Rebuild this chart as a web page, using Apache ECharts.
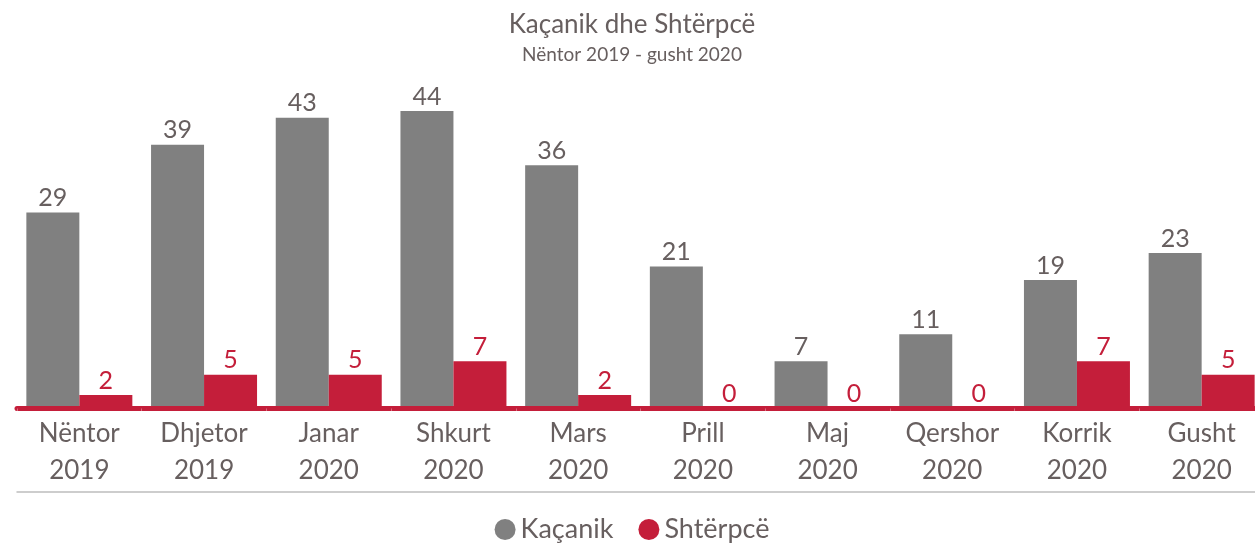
<!DOCTYPE html>
<html>
<meta charset="UTF-8">
<title>Kaçanik dhe Shtërpcë</title>
<style type="text/css">
    html,
    body {
        margin: 0px;
        height: 100%;
        width: 100%;
        overflow: hidden;
    }

    /* a bit wider than the window: the last bar runs off the right edge */
    #chart {
        width: 1264px;
        height: 543px;
    }
</style>
<script src="https://cdn.jsdelivr.net/npm/echarts@6/dist/echarts.min.js"></script>

<body>
    <div id="chart"></div>
    <script>

        const months = ['Nëntor', 'Dhjetor', 'Janar', 'Shkurt', 'Mars', 'Prill', 'Maj', 'Qershor', 'Korrik', 'Gusht'];
        const years = ['2019', '2019', '2020', '2020', '2020', '2020', '2020', '2020', '2020', '2020'];
        const kacanik = [29, 39, 43, 44, 36, 21, 7, 11, 19, 23];
        const shterpce = [2, 5, 5, 7, 2, 0, 0, 0, 7, 5];

        const grey = '#808080';
        const red = '#c41e3a';
        const textColor = '#675f5f';
        const font = 'Lato, "Open Sans", sans-serif';

        const labels = months.map((m, i) => m + '\n' + years[i]);

        const chart = echarts.init(document.querySelector('#chart'));

        const options = {
            textStyle: { fontFamily: font },
            title: {
                text: 'Kaçanik dhe Shtërpcë',
                subtext: 'Nëntor 2019 - gusht 2020',
                left: 'center',
                top: 7,
                itemGap: 7,
                textStyle: { fontSize: 26, fontWeight: 'normal', color: textColor, fontFamily: font },
                subtextStyle: { fontSize: 19, color: textColor, fontFamily: font }
            },
            legend: {
                bottom: -5,
                left: 'center',
                icon: 'circle',
                itemWidth: 21,
                itemHeight: 21,
                itemGap: 25,
                textStyle: { fontSize: 27, color: textColor, fontFamily: font }
            },
            grid: {
                left: 17,
                right: 0,
                top: 70.5,
                bottom: 134.5
            },
            xAxis: [{
                type: 'category',
                data: labels,
                z: 10,
                axisLine: { lineStyle: { color: red, width: 5 } },
                axisTick: { show: true, length: 3, lineStyle: { color: 'rgba(255,255,255,0.35)', width: 1 } },
                axisLabel: {
                    margin: 7,
                    fontSize: 26,
                    lineHeight: 37,
                    color: textColor,
                    fontFamily: font
                }
            }, {
                type: 'category',
                data: labels,
                position: 'bottom',
                offset: 83.5,
                axisLine: { lineStyle: { color: '#bdbdbd', width: 1.5 } },
                axisTick: { show: false },
                axisLabel: { show: false }
            }],
            yAxis: {
                type: 'value',
                min: 0,
                max: 50,
                show: false,
                splitLine: { show: false }
            },
            series: [{
                name: 'Kaçanik',
                type: 'bar',
                data: kacanik,
                barGap: '0%',
                barCategoryGap: '15%',
                itemStyle: { color: grey },
                label: {
                    show: true,
                    position: 'top',
                    distance: 2,
                    fontSize: 25,
                    color: textColor,
                    fontFamily: font
                }
            }, {
                name: 'Shtërpcë',
                type: 'bar',
                data: shterpce,
                itemStyle: { color: red },
                label: {
                    show: true,
                    position: 'top',
                    distance: 2,
                    fontSize: 25,
                    color: red,
                    fontFamily: font
                }
            }]
        };
        chart.setOption(options);

    </script>
</body>

</html>
